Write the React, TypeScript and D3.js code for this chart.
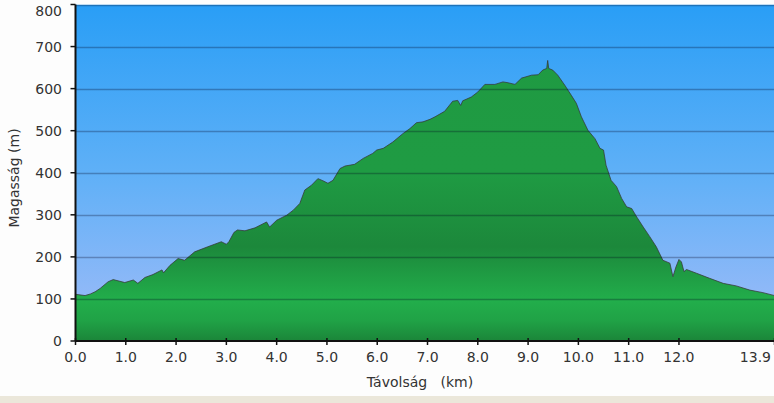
import React from "react";
import * as d3 from "d3";

const distanceKm = [
  0.0, 0.19, 0.3, 0.39, 0.49, 0.65, 0.75, 0.98, 1.15, 1.24, 1.38, 1.54, 1.72, 1.75, 1.88,
  2.04, 2.17, 2.37, 2.63, 2.9, 3.0, 3.05, 3.15, 3.22, 3.37, 3.57, 3.8, 3.86, 4.0, 4.13, 4.2,
  4.33, 4.46, 4.56, 4.69, 4.82, 4.92, 5.02, 5.12, 5.26, 5.36, 5.55, 5.72, 5.91, 5.99, 6.12,
  6.31, 6.51, 6.65, 6.78, 6.91, 7.05, 7.15, 7.34, 7.5, 7.6, 7.66, 7.7, 7.87, 8.0, 8.14, 8.34,
  8.5, 8.6, 8.74, 8.87, 9.07, 9.2, 9.29, 9.37, 9.39, 9.41, 9.49, 9.59, 9.73, 9.86, 9.96,
  10.06, 10.19, 10.33, 10.43, 10.5, 10.55, 10.65, 10.76, 10.86, 10.96, 11.06, 11.16, 11.29,
  11.42, 11.55, 11.68, 11.82, 11.88, 11.94, 12.0, 12.05, 12.1, 12.15, 12.35, 12.61, 12.88,
  13.14, 13.41, 13.67, 13.9,
];

const elevationM = [
  111, 108, 112, 117, 125, 141, 146, 139, 145, 137, 151, 158, 169, 162, 180,
  196, 192, 212, 224, 236, 230, 236, 258, 264, 262, 269, 283, 271, 287, 295, 299,
  311, 327, 359, 370, 386, 381, 375, 382, 410, 416, 420, 434, 446, 454, 458,
  473, 493, 505, 519, 521, 527, 533, 546, 570, 572, 560, 571, 580, 592, 610, 610,
  616, 614, 610, 625, 632, 633, 644, 648, 667, 648, 644, 632, 608, 584, 565,
  533, 501, 481, 458, 454, 418, 382, 367, 339, 319, 315, 295, 271,
  248, 224, 192, 185, 153, 176, 194, 188, 165, 170, 161, 149, 137,
  131, 121, 115, 108,
];

const xTickValues = [0, 1, 2, 3, 4, 5, 6, 7, 8, 9, 10, 11, 12, 13.9];
const yTickValues = [0, 100, 200, 300, 400, 500, 600, 700, 800];

const xTitle = "Távolság   (km)";
const yTitle = "Magasság (m)";

export default function App() {
  const W = 774;
  const H = 403;
  const left = 75.5;
  const right = 774.5;
  const top = 4.5;
  const bottom = 341;

  const x = d3.scaleLinear().domain([0, 13.9]).range([left, right]);
  const y = d3.scaleLinear().domain([0, 800]).range([bottom, top]);

  const pts = distanceKm.map((d, i) => [d, elevationM[i]] as [number, number]);
  const area = d3
    .area<[number, number]>()
    .x((d) => x(d[0]))
    .y0(bottom)
    .y1((d) => y(d[1]));
  const line = d3
    .line<[number, number]>()
    .x((d) => x(d[0]))
    .y((d) => y(d[1]));

  const font = "'DejaVu Sans', Verdana, sans-serif";

  return (
    <svg
      width={W}
      height={H}
      style={{ position: "absolute", left: 0, top: 0, display: "block" }}
    >
      <defs>
        <linearGradient id="sky" gradientUnits="userSpaceOnUse" x1="0" y1={top} x2="0" y2={bottom}>
          <stop offset="0" stopColor="#299ef6" />
          <stop offset="0.5" stopColor="#5fb0f7" />
          <stop offset="1" stopColor="#a2bcf8" />
        </linearGradient>
        <linearGradient id="green" gradientUnits="userSpaceOnUse" x1="0" y1={top} x2="0" y2={bottom}>
          <stop offset="0" stopColor="#1f9a42" />
          <stop offset="0.5" stopColor="#1f9b43" />
          <stop offset="0.72" stopColor="#1c883b" />
          <stop offset="0.88" stopColor="#22ae4b" />
          <stop offset="0.94" stopColor="#20a246" />
          <stop offset="1" stopColor="#1b8539" />
        </linearGradient>
        <clipPath id="plotClip">
          <rect x={left} y={top} width={right - left} height={bottom - top} />
        </clipPath>
      </defs>
      <rect x={0} y={0} width={W} height={H} fill="#fdfdfd" />
      <rect x={0} y={396} width={W} height={H - 396} fill="#ebe7da" />

      <g clipPath="url(#plotClip)">
        <rect x={left} y={top} width={right - left} height={bottom - top} fill="url(#sky)" />
        <path d={area(pts) || ""} fill="url(#green)" />
        <path d={line(pts) || ""} fill="none" stroke="rgba(55,55,55,0.75)" strokeWidth={1} />
        {yTickValues
          .filter((v) => v > 0)
          .map((v) => (
            <line
              key={v}
              x1={left}
              x2={right}
              y1={Math.round(y(v)) + 0.5}
              y2={Math.round(y(v)) + 0.5}
              stroke="rgba(0,0,30,0.28)"
              strokeWidth={1.5}
            />
          ))}
      </g>

      {/* axes */}
      <line x1={left} x2={left} y1={top} y2={bottom} stroke="#111" strokeWidth={2} />
      <line x1={left} x2={right} y1={bottom} y2={bottom} stroke="#111" strokeWidth={2} />

      {yTickValues.map((v) => (
        <g key={v}>
          <line x1={left - 5} x2={left} y1={y(v)} y2={y(v)} stroke="#111" strokeWidth={1.5} />
          <text
            x={62}
            y={Math.max(y(v), 11)}
            dy="0.36em"
            textAnchor="end"
            fontFamily={font}
            fontSize={14}
            fill="#333"
          >
            {v}
          </text>
        </g>
      ))}

      {xTickValues.map((v, i) => {
        const last = i === xTickValues.length - 1;
        return (
          <g key={v}>
            <line x1={x(v)} x2={x(v)} y1={bottom - 3} y2={bottom + 4} stroke="#111" strokeWidth={1.5} />
            <text
              x={last ? 771 : x(v)}
              y={362}
              textAnchor={last ? "end" : "middle"}
              fontFamily={font}
              fontSize={14}
              fill="#333"
            >
              {v.toFixed(1)}
            </text>
          </g>
        );
      })}

      <text
        x={420}
        y={387}
        textAnchor="middle"
        fontFamily={font}
        fontSize={14}
        fill="#333"
        style={{ whiteSpace: "pre" }}
      >
        {xTitle}
      </text>
      <text
        transform="translate(19,178) rotate(-90)"
        textAnchor="middle"
        fontFamily={font}
        fontSize={14}
        fill="#333"
      >
        {yTitle}
      </text>
    </svg>
  );
}
